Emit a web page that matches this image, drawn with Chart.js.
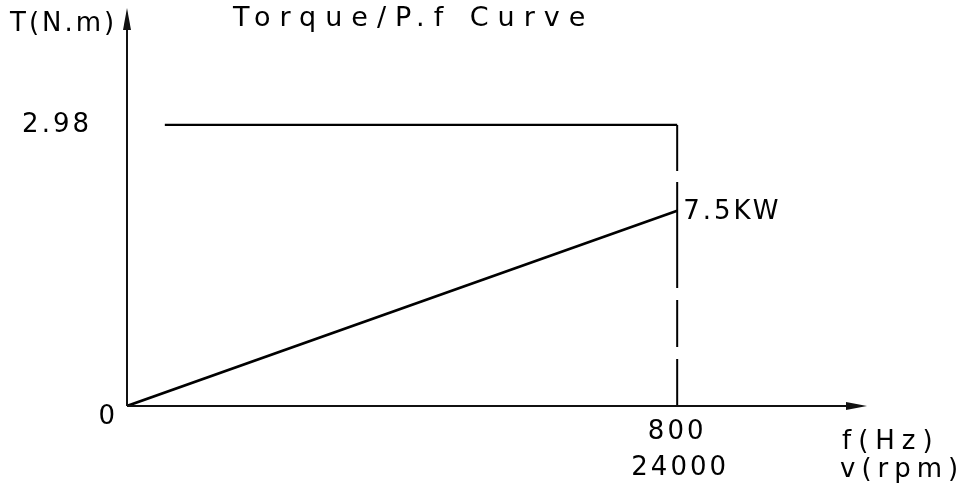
<!DOCTYPE html>
<html>
<head>
<meta charset="utf-8">
<script src="https://cdn.jsdelivr.net/npm/chart.js@4"></script>
<style>
  html, body { margin: 0; padding: 0; background: #fff; }
  canvas { display: block; }
</style>
</head>
<body>
<canvas id="curve" width="967" height="490"></canvas>
<script>
// Torque / power vs frequency curve, drawn like the CAD sheet.

const TITLE = 'Torque/P.f Curve';
const Y_NAME = 'T(N.m)';
const X_NAME = ['f(Hz)', 'v(rpm)'];
const POWER_LABEL = '7.5KW';

const xTicksHz = [800];
const xTicksRpm = [24000];
const yTicks = [2.98];

const torqueX = [55, 800];
const torqueY = [2.98, 2.98];
const powerX = [0, 800];
const powerY = [0, 2.07];
const limitX = [800, 800];
const limitY = [2.98, 0];

const X_MAX = 1076;
const Y_MAX = 4.22;

const INK = '#000';
const FONT = '26px "DejaVu Sans"';

const pts = (xs, ys) => xs.map((x, i) => ({ x, y: ys[i] }));

// axes with arrows + all the text
const sheet = {
    id: 'sheet',
    afterDraw(chart) {
        const { ctx, chartArea: a, scales: { x, y } } = chart;
        const ox = x.getPixelForValue(0);
        const oy = y.getPixelForValue(0);
        ctx.save();
        ctx.strokeStyle = '#111';
        ctx.fillStyle = '#111';
        ctx.lineWidth = 2;
        ctx.beginPath();
        ctx.moveTo(ox, oy); ctx.lineTo(ox, a.top + 10);
        ctx.moveTo(ox, oy); ctx.lineTo(a.right - 10, oy);
        ctx.stroke();
        // arrow heads
        ctx.beginPath();
        ctx.moveTo(ox, a.top); ctx.lineTo(ox - 4, a.top + 22); ctx.lineTo(ox + 4, a.top + 22);
        ctx.closePath(); ctx.fill();
        ctx.beginPath();
        ctx.moveTo(a.right, oy); ctx.lineTo(a.right - 21, oy - 4); ctx.lineTo(a.right - 21, oy + 4);
        ctx.closePath(); ctx.fill();

        ctx.fillStyle = INK;
        ctx.font = FONT;
        ctx.letterSpacing = '3px';
        ctx.textBaseline = 'middle';

        ctx.textAlign = 'right';
        yTicks.forEach(v => ctx.fillText(String(v), ox - 35, y.getPixelForValue(v)));
        ctx.fillText('0', ox - 9, oy + 11);

        ctx.textAlign = 'center';
        xTicksHz.forEach((v, i) => {
            const px = x.getPixelForValue(v);
            ctx.fillText(String(v), px, oy + 26);
            ctx.fillText(String(xTicksRpm[i]), px + 3, oy + 62);
        });

        ctx.textAlign = 'left';
        ctx.fillText(Y_NAME, 10, 24);
        ctx.fillText(POWER_LABEL, x.getPixelForValue(800) + 6, y.getPixelForValue(powerY[1]) + 1);
        ctx.letterSpacing = '7px';
        ctx.fillText(X_NAME[0], 842, oy + 36);
        ctx.letterSpacing = '6px';
        ctx.fillText(X_NAME[1], 840, oy + 64);

        ctx.font = '27px "DejaVu Sans"';
        ctx.letterSpacing = '9px';
        ctx.fillText(TITLE, 233, 19);
        ctx.restore();
    }
};

new Chart(document.getElementById('curve'), {
    type: 'scatter',
    data: {
        datasets: [
            { data: pts(torqueX, torqueY), showLine: true, borderColor: INK, borderWidth: 2.2, pointRadius: 0 },
            { data: pts(powerX, powerY), showLine: true, borderColor: INK, borderWidth: 2.6, pointRadius: 0 },
            { data: pts(limitX, limitY), showLine: true, borderColor: INK, borderWidth: 2, pointRadius: 0,
              borderDash: [46, 11, 106, 12, 47, 12] }
        ]
    },
    options: {
        responsive: false,
        animation: false,
        layout: { padding: { left: 127, right: 100, top: 8, bottom: 84 } },
        plugins: { legend: { display: false }, tooltip: { enabled: false } },
        scales: {
            x: { type: 'linear', min: 0, max: X_MAX, display: false },
            y: { type: 'linear', min: 0, max: Y_MAX, display: false }
        }
    },
    plugins: [sheet]
});
</script>
</body>
</html>
